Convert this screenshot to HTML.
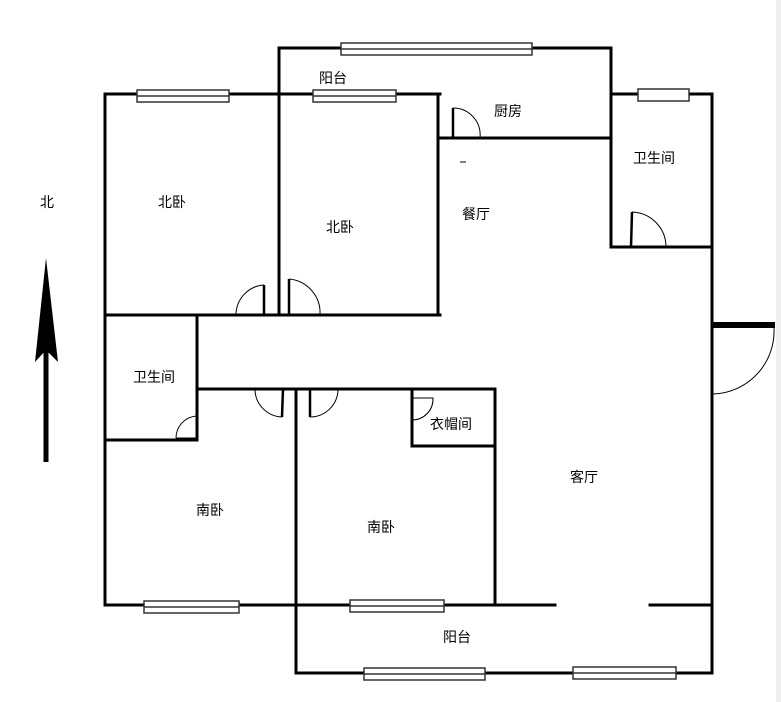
<!DOCTYPE html>
<html><head><meta charset="utf-8"><style>
html,body{margin:0;padding:0;background:#fff;}
svg{display:block;}
text{font-family:"Liberation Sans","Noto Sans CJK SC",sans-serif;font-size:14px;fill:#000;}
</style></head><body>
<svg width="781" height="702" viewBox="0 0 781 702" xmlns="http://www.w3.org/2000/svg">
<rect x="776" y="0" width="5" height="702" fill="#eee"/>
<g stroke="#000" stroke-width="3" fill="none" stroke-linecap="square">
<!-- top balcony -->
<path d="M279 48 H611 V247"/>
<path d="M279 48 V315"/>
<path d="M105 94 H440"/>
<path d="M105 94 V605"/>
<path d="M438 94 V315"/>
<path d="M438 138 H611"/>
<path d="M611 94 H712 V672"/>
<path d="M611 247 H712"/>
<path d="M105 315 H440"/>
<path d="M197 315 V440"/>
<path d="M105 440 H197"/>
<path d="M197 389 H495 V605"/>
<path d="M296 389 V673"/>
<path d="M412 389 V446 H495"/>
<path d="M105 605 H555"/>
<path d="M650 605 H712"/>
<path d="M296 673 H712"/>
</g>
<!-- entrance door -->
<rect x="712" y="322" width="63" height="6" fill="#000"/>
<path d="M774 328 A63 63 0 0 1 713 394" stroke="#000" stroke-width="1" fill="none"/>
<!-- windows -->
<g fill="#fff" stroke="#333" stroke-width="1.5">
<rect x="341" y="43" width="191" height="12"/>
<rect x="137" y="90" width="92" height="12"/>
<rect x="313" y="90" width="83" height="12"/>
<rect x="638" y="89" width="51" height="12"/>
<rect x="144" y="601" width="95" height="12"/>
<rect x="350" y="600" width="94" height="12"/>
<rect x="364" y="668" width="121" height="12"/>
<rect x="573" y="667" width="103" height="12"/>
</g>
<g stroke="#333" stroke-width="1.5">
<line x1="341" y1="49" x2="532" y2="49"/>
<line x1="137" y1="96" x2="229" y2="96"/>
<line x1="313" y1="96" x2="396" y2="96"/>
<line x1="144" y1="607" x2="239" y2="607"/>
<line x1="350" y1="606" x2="444" y2="606"/>
<line x1="364" y1="674" x2="485" y2="674"/>
<line x1="573" y1="673" x2="676" y2="673"/>
</g>
<!-- doors -->
<g stroke="#000" stroke-width="2.5" fill="none">
<line x1="264" y1="285" x2="264" y2="315"/>
<line x1="289" y1="279" x2="289" y2="315"/>
<line x1="453" y1="108" x2="453" y2="138"/>
<line x1="632" y1="212" x2="631" y2="247"/>
<line x1="283" y1="389" x2="282" y2="417"/>
<line x1="310" y1="389" x2="310" y2="417"/>
</g>
<g stroke="#000" stroke-width="1" fill="none">
<path d="M264 285 A30 30 0 0 0 236 315"/>
<path d="M289 279 A34 34 0 0 1 320 315"/>
<path d="M453 108 A27 27 0 0 1 480 138"/>
<path d="M632 212 A35 35 0 0 1 666 247"/>
<path d="M282 417 A28 28 0 0 1 255 389"/>
<path d="M310 417 A28 28 0 0 0 338 389"/>
<path d="M197 416 A22 22 0 0 0 176 438"/>
<line x1="176" y1="438" x2="197" y2="438"/>
<path d="M412 398 H433 A21 21 0 0 1 412 420"/>
</g>
<!-- north arrow -->
<polygon points="46,258 58,362 46,350 35,362" fill="#000"/>
<rect x="43.5" y="350" width="5" height="112" fill="#000"/>
<text x="47" y="207" text-anchor="middle">北</text>
<!-- labels -->
<text x="333" y="83" text-anchor="middle">阳台</text>
<text x="508" y="116" text-anchor="middle">厨房</text>
<text x="172" y="207" text-anchor="middle">北卧</text>
<text x="340" y="232" text-anchor="middle">北卧</text>
<text x="476" y="219" text-anchor="middle">餐厅</text>
<text x="654" y="163" text-anchor="middle">卫生间</text>
<text x="154" y="382" text-anchor="middle">卫生间</text>
<text x="451" y="429" text-anchor="middle">衣帽间</text>
<text x="584" y="482" text-anchor="middle">客厅</text>
<text x="210" y="515" text-anchor="middle">南卧</text>
<text x="381" y="532" text-anchor="middle">南卧</text>
<text x="457" y="642" text-anchor="middle">阳台</text>
<line x1="460" y1="162" x2="466" y2="162" stroke="#000" stroke-width="1"/>
</svg>
</body></html>
